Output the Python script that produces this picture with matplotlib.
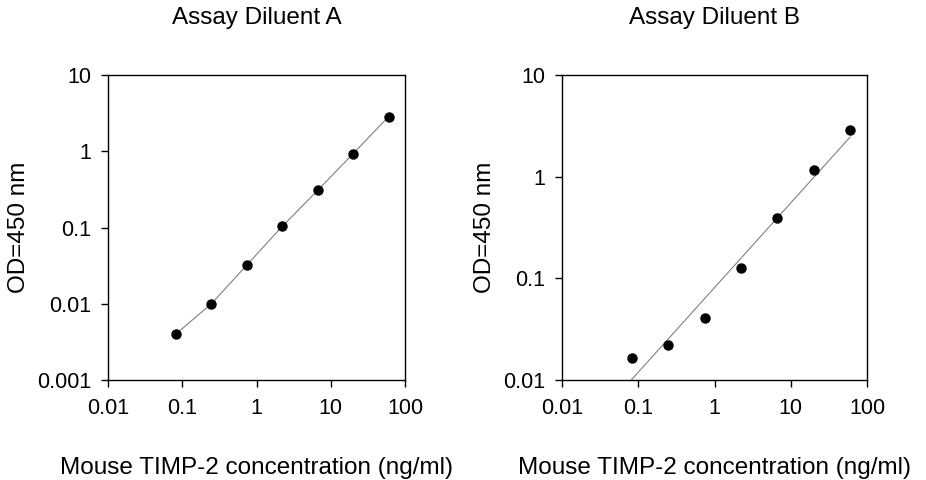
import numpy as np
import matplotlib
matplotlib.use("Agg")
import matplotlib.pyplot as plt
from matplotlib.ticker import FixedLocator, FixedFormatter, NullLocator

plt.rcParams['font.family'] = ['Liberation Sans', 'DejaVu Sans']

conc = [0.082, 0.247, 0.741, 2.222, 6.667, 20, 60]
od_a = [0.0040, 0.0100, 0.0322, 0.1035, 0.307, 0.929, 2.84]
od_b = [0.0166, 0.0221, 0.0407, 0.125, 0.392, 1.154, 2.86]

x_ticks = [0.01, 0.1, 1, 10, 100]
x_labels = ['0.01', '0.1', '1', '10', '100']
y_ticks_a = [0.001, 0.01, 0.1, 1, 10]
y_labels_a = ['0.001', '0.01', '0.1', '1', '10']
y_ticks_b = [0.01, 0.1, 1, 10]
y_labels_b = ['0.01', '0.1', '1', '10']

fig = plt.figure(figsize=(9.26, 4.8), dpi=100)
ax_a = fig.add_axes([108 / 926, 100 / 480, 297 / 926, 305 / 480])
ax_b = fig.add_axes([562 / 926, 100 / 480, 305 / 926, 305 / 480])


def style_axis(ax, title, yticks, ylabels):
    ax.set_xscale('log')
    ax.set_yscale('log')
    ax.set_xlim(0.01, 100)
    ax.set_ylim(yticks[0], yticks[-1])
    ax.xaxis.set_major_locator(FixedLocator(x_ticks))
    ax.xaxis.set_major_formatter(FixedFormatter(x_labels))
    ax.yaxis.set_major_locator(FixedLocator(yticks))
    ax.yaxis.set_major_formatter(FixedFormatter(ylabels))
    ax.xaxis.set_minor_locator(NullLocator())
    ax.yaxis.set_minor_locator(NullLocator())
    ax.tick_params(direction='out', length=5, width=1, labelsize=15.5)
    ax.tick_params(axis='x', pad=8)
    ax.tick_params(axis='y', pad=7)
    for sp in ax.spines.values():
        sp.set_linewidth(1)
        sp.set_color('black')
    ax.set_title(title, fontsize=17.5, pad=37)
    ax.set_xlabel('Mouse TIMP-2 concentration (ng/ml)', fontsize=17.5, labelpad=27)
    ax.set_ylabel('OD=450 nm', fontsize=17.5, labelpad=5)


# Diluent A: curve through the standards
ax_a.plot(conc, od_a, color='#808080', lw=0.8, zorder=2)
ax_a.plot(conc, od_a, 'o', color='black', ms=6.5, zorder=3)
style_axis(ax_a, 'Assay Diluent A', y_ticks_a, y_labels_a)

# Diluent B: linear fit in log-log space
lx = np.log10(conc)
ly = np.log10(od_b)
slope, inter = np.polyfit(lx, ly, 1)
fit_x = np.array([min(conc), max(conc)])
fit_y = 10 ** (inter + slope * np.log10(fit_x))
ax_b.plot(fit_x, fit_y, color='#808080', lw=0.8, zorder=2)
ax_b.plot(conc, od_b, 'o', color='black', ms=6.5, zorder=3, clip_on=False)
style_axis(ax_b, 'Assay Diluent B', y_ticks_b, y_labels_b)

fig.savefig('out.png', dpi=100)
